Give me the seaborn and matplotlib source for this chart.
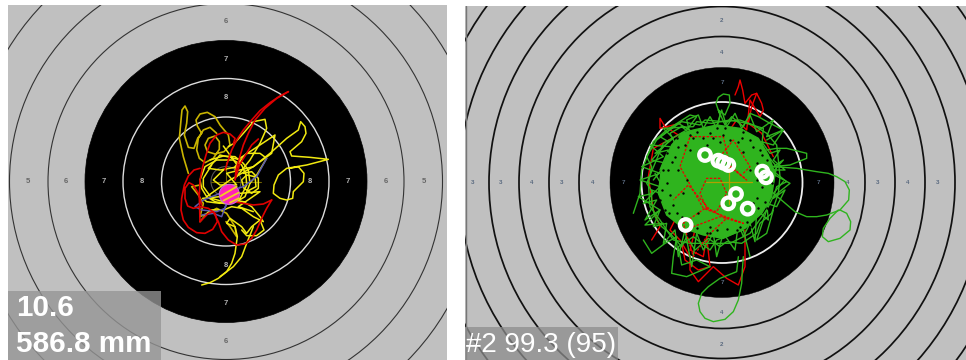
import matplotlib
matplotlib.use("Agg")
import matplotlib.pyplot as plt
import seaborn as sns
import numpy as np
import pandas as pd
from matplotlib.patches import Circle, Ellipse, Rectangle

sns.set_theme(style="white")
plt.rcParams['font.family'] = ['Liberation Sans', 'DejaVu Sans']

W, H = 966, 360
GREY = "#c0c0c0"

left_center = (226, 181.5)
left_black_r = 141
left_white_r = [103, 64.5]
left_ring_r = [178, 216.5, 255]
left_labels = [("5", 198), ("6", 160), ("7", 122), ("8", 84)]
left_top_labels = [("6", 160), ("7", 122), ("8", 84)]

right_center = (722, 182.5)
right_black_wh = (112, 115)
right_white_r = [80.5]
right_ring_w = [143, 173, 203, 233, 263, 293]
right_ring_h = [146, 176, 206, 236, 266, 296]
right_h_labels = ["3", "3", "4", "3", "4", "7", "7", "4", "3", "4", "3"]
right_h_label_x = [473, 501, 532, 562, 593, 623, 818, 848, 878, 908, 938]
right_v_labels = ["2", "4", "7", "7", "4", "2"]
right_v_label_y = [20, 52, 82, 283, 313, 344]

y_dark_a = [(205,310),(190,260),(178,205),(183,150),(186,120),(195,108),(203,125),(200,160),(193,195),(205,232),(222,235),(233,205),(245,190),(232,168),(228,150),(240,132),(262,127),(285,140),(300,165),(325,195),(330,225),(312,245),(285,252),(262,245),(255,225),(265,205),(285,198),(298,215),(298,238),(280,265),(255,278),(238,265),(230,240),(235,205),(250,180),(270,172),(290,190)]
y_dark_b = [(240,345),(215,350),(235,375),(250,400),(240,440),(262,430),(290,415),(320,430),(345,470),(350,500),(330,470),(318,455)]
y_bright_b = [(260,380),(330,330),(400,290),(450,250),(500,205),(535,180),(542,155),(555,170),(558,190),(545,215),(510,245),(515,258),(570,262),(625,268),(560,285),(500,295),(475,315),(462,345),(460,370),(480,385),(500,390),(518,385),(520,365),(550,335),(552,310),(535,290),(510,295)]
y_ring_c = [(270,270),(310,258),(345,260),(370,280),(385,300),(390,340),(375,380),(350,395),(320,402),(285,395),(260,380),(245,355),(240,330),(255,290),(290,270),(340,270),(365,285),(378,315),(380,345),(360,385),(310,395),(275,385),(250,350),(250,325),(275,285)]
y_loop = [(370,310),(395,305),(415,325),(415,355),(395,370),(372,355),(365,330),(380,315),(405,320),(408,350),(385,362)]
y_d = [(325,230),(345,218),(370,190),(400,155),(435,148),(440,175),(420,220),(390,270),(350,320),(345,290),(380,250),(420,250),(440,265),(410,315),(390,340)]
y_e = [(240,455),(270,420),(310,420),(335,410),(365,415),(400,440),(430,455),(420,440),(395,410),(370,395),(340,390),(300,400),(260,395),(248,385),(300,380),(360,370),(420,365),(355,410),(400,425)]
y_tail = [(245,645),(270,638),(295,625),(320,605),(335,580),(345,550),(352,500),(345,470),(320,460),(330,445),(365,470),(380,490),(395,470),(420,450),(432,480),(410,497),(380,497),(365,480)]
y_tail2 = [(300,620),(340,590),(365,560),(380,520),(400,470)]
y_top = [(310,228),(355,290),(300,300),(265,295),(300,255),(355,268),(465,195),(455,250),(400,290),(320,310),(350,345),(300,345),(280,330),(310,300)]
r_big = [(505,65),(480,78),(450,98),(420,122),(395,150),(370,180),(350,210),(335,240),(325,270),(315,300)]
r_big2 = [(505,65),(470,85),(435,115),(405,150),(385,190),(370,225),(358,265),(348,300),(345,330),(358,285),(380,250),(395,225),(415,207)]
r_arc = [(340,222),(345,205),(330,192),(310,187),(290,195),(270,220),(258,255),(248,290),(240,330),(238,380),(240,455)]
r_loop = [(240,295),(222,300),(205,318),(193,345),(185,385),(183,420),(190,450),(205,472),(230,488),(255,490),(278,478),(292,455),(285,430),(265,415),(240,410),(220,415),(203,408),(195,385),(195,355),(207,338),(220,345),(235,370),(245,405)]
r_bottom = [(455,390),(440,415),(425,445),(410,480),(395,505),(375,522),(350,525),(325,510),(305,485),(295,455),(280,425),(265,430),(240,455)]
r_bottom2 = [(455,390),(430,402),(400,405),(370,400),(340,395),(310,385)]
b_trace = [(440,265),(410,320),(370,350),(300,370),(250,390),(225,410),(245,420),(290,425),(315,415),(325,385),(305,440),(280,430),(245,435)]
pink_center = (328, 373)
pink_stripes = [((302,378),(350,350)),((310,392),(356,368)),((330,398),(356,385))]

blob_outline = [(250,180),(320,165),(390,175),(445,205),(475,255),(495,310),(485,380),(455,430),(405,475),(340,505),(280,495),(220,475),(170,435),(145,370),(155,290),(185,225),(215,190)]
black_specks = [(300,190),(340,195),(395,205),(430,230),(455,255),(440,280),(205,230),(185,275),(172,340),(190,405),(178,430),(215,440),(350,478),(380,480),(410,455),(445,415),(465,395),(300,490),(205,300),(220,370),(400,245),(430,400),(250,205),(330,215),(300,470),
                (280,205),(310,205),(360,210),(420,210),(450,240),(465,290),(195,260),(175,300),(180,375),(200,430),(240,455),(260,475),(320,480),(390,470),(440,385),(455,350),(420,300),(240,240),(230,330),(265,430),(440,330),(385,215),(345,175),(225,225),(290,225),
                (160,300),(155,360),(170,250),(200,205),(260,185),(320,175),(400,185),(470,270),(485,340),(470,415),(420,470),(290,490),(210,465),(165,420),(150,390),(480,310),(240,195)]
g_tail = [(480,290),(520,292),(560,295),(620,305),(655,310),(680,320),(705,335),(718,360),(716,390),(690,420),(650,435),(620,440),(590,440),(555,425),(520,395),(490,370),(520,335)]
g_loop2 = [(690,420),(710,430),(722,455),(720,480),(690,505),(655,515),(637,500),(640,475),(660,445),(685,420)]
g_bottom = [(400,560),(397,600),(395,640),(385,690),(370,725),(345,748),(310,755),(285,745),(270,725),(265,700),(275,670),(295,650),(330,625),(380,605),(385,560)]
g_top = [(320,170),(330,135),(318,100),(325,82),(340,72),(358,75),(360,100),(345,135),(325,120),(345,165),(365,140),(400,170),(420,130),(445,140),(480,160),(520,180),(470,210)]
g_right = [(470,240),(500,235),(530,235),(590,250),(590,265),(540,285),(490,290),(520,270),(485,310),(540,340),(490,380),(470,420),(440,510),(470,490),(490,420)]
g_left = [(70,430),(90,370),(95,300),(130,215),(170,180),(240,135),(260,140),(230,180),(160,220),(110,340),(130,370),(85,380),(150,420),(105,465),(160,460)]
g_bl = [(100,510),(125,550),(165,520),(200,500),(190,560),(185,610),(230,620),(300,590),(260,570),(215,585),(205,530),(250,500),(300,540),(320,510),(400,480),(420,560)]
g_fringe = [(200,230),(180,190),(215,170),(240,190),(230,150),(265,135),(280,175),(300,140),(320,175),(335,120),(350,170),(375,130),(395,175),(420,135),(440,185),(490,150),(470,200),(520,180),(490,225),(455,215),(480,250),(510,240),(490,270),(525,300),(485,300),(530,335),(500,350),(490,385),(525,360),(500,410),(470,400),(475,450),(440,420),(435,515),(420,460),(400,500),(385,460),(375,540),(340,490),(320,560),(310,490),(280,540),(260,490),(245,590),(225,480),(205,560),(195,480),(160,520),(170,460),(130,470),(150,420),(105,450),(140,390),(100,400),(150,350),(90,330),(150,310),(95,290),(160,260),(120,225),(180,230)]
g_fringe2 = [(150,300),(175,240),(135,250),(190,205),(160,175),(250,170),(260,155),(305,160),(360,150),(410,160),(460,175),(455,235),(500,290),(490,340),(470,420),(420,490),(360,520),(300,520),(240,520),(190,510),(150,450),(120,410),(115,340),(125,290),(110,260),(140,210),(205,160),(255,190)]
g_fringe3 = [(130,330),(170,280),(125,270),(175,215),(150,200),(215,155),(270,165),(285,150),(340,155),(390,150),(430,165),(470,190),(500,225),(505,270),(510,320),(505,370),(485,430),(450,460),(440,490),(395,520),(350,515),(330,530),(295,505),(255,540),(230,500),(215,530),(180,490),(155,470),(135,440),(125,400),(125,360),(175,380),(135,310)]
r2_top = [(375,75),(385,50),(390,30),(398,60),(405,100),(425,75),(440,70),(455,100),(460,120),(450,140),(420,90),(410,180),(380,150),(345,200),(320,165)]
r2_top2 = [(440,70),(425,110),(415,160),(455,190),(490,260)]
r2_left = [(210,160),(150,175),(150,145),(165,170),(205,195),(130,235),(115,320),(130,420),(150,470),(125,510)]
r2_bottom = [(405,480),(405,590),(385,645),(350,625),(310,590),(280,620),(265,635),(240,600),(240,560),(210,510),(180,480),(200,440)]
r2_bottom2 = [(255,480),(240,540),(280,560),(290,500),(300,590),(265,600),(225,570),(215,520)]
r2_center = [(290,415),(270,370),(290,325),(330,325),(350,370),(320,425),(285,415),(220,460),(250,560),(290,500),(350,445),(300,420),(235,345),(190,390)]
r2_up = [(400,310),(420,290),(370,210),(330,260),(410,330),(360,290),(340,200),(240,200),(210,290),(280,415),(400,460),(330,440),(250,470)]
shot_x = [285,325,340,355,457,468,378,355,413,227]
shot_y = [255,272,278,285,305,322,372,400,416,465]

left_text = ["10.6", "586.8 mm"]
right_text = "#2 99.3 (95)"

fig = plt.figure(figsize=(W/100, H/100), dpi=100, facecolor="white")

def panel(x0, y0, x1, y1):
    ax = fig.add_axes([x0/W, 1-y1/H, (x1-x0)/W, (y1-y0)/H])
    ax.set_xlim(x0, x1)
    ax.set_ylim(y1, y0)
    ax.set_facecolor(GREY)
    ax.set_xticks([]); ax.set_yticks([])
    for s in ax.spines.values():
        s.set_visible(False)
    return ax

def trace(ax, pts, ox, oy, color, lw, z=3, **kw):
    p = np.array(pts, float)
    d = pd.DataFrame({"x": ox + p[:,0]/3, "y": oy + p[:,1]/3})
    sns.lineplot(data=d, x="x", y="y", sort=False, estimator=None, color=color,
                 lw=lw, ax=ax, legend=False, zorder=z, **kw)

# left panel
axL = panel(8, 5, 447, 360)
for r in left_ring_r:
    axL.add_patch(Circle(left_center, r, fc="none", ec="#333333", lw=0.8, zorder=1))
axL.add_patch(Circle(left_center, left_black_r, fc="black", ec="black", lw=0.5, zorder=1))
for r in left_white_r:
    axL.add_patch(Circle(left_center, r, fc="none", ec="#dddddd", lw=1.0, zorder=2))
cx, cy = left_center
def lab_col(r):
    return "#b5b5b5" if r < left_black_r else "#666666"
for lab, r in left_labels:
    for sx in (-1, 1):
        axL.text(cx+sx*r, cy, lab, ha="center", va="center", fontsize=5.5, color=lab_col(r), fontweight="bold")
for lab, r in left_top_labels:
    for sy in (-1, 1):
        axL.text(cx, cy+sy*r, lab, ha="center", va="center", fontsize=5.5, color=lab_col(r), fontweight="bold")
axL.add_patch(Circle(left_center, 15, fc="none", ec="#555555", lw=0.8, zorder=2))
axL.plot([cx-15, cx+35], [cy, cy], color="#6e6000", lw=0.8, zorder=2)
axL.plot([cx, cx], [cy-20, cy+20], color="#6e6000", lw=0.8, zorder=2)

ox, oy = 120, 70
for pts in (y_dark_a, y_dark_b):
    trace(axL, pts, ox, oy, "#c9b400", 1.2)
for pts in (y_bright_b, y_ring_c, y_loop, y_d, y_e, y_tail, y_tail2, y_top):
    trace(axL, pts, ox, oy, "#f2ea10", 1.1, z=4)
trace(axL, b_trace, ox, oy, "#5a5ab0", 1.1, z=5)
for pts in (r_big, r_big2, r_arc, r_loop, r_bottom, r_bottom2):
    trace(axL, pts, ox, oy, "#e00000", 1.2, z=5)
px, py = ox + pink_center[0]/3, oy + pink_center[1]/3
axL.add_patch(Circle((px, py), 10, fc="#ff22b8", ec="#cc66dd", lw=0.8, zorder=6))
for a, b in pink_stripes:
    trace(axL, [a, b], ox, oy, "#f0d020", 1.3, z=7)

axL.add_patch(Rectangle((8, 291), 153, 69, fc="#969696", ec="none", alpha=0.79, zorder=8))
axL.text(16, 308, left_text[0], fontsize=21.3, fontweight="bold", color="white", va="center", ha="left", zorder=9)
axL.text(16, 344, left_text[1], fontsize=21.3, fontweight="bold", color="white", va="center", ha="left", zorder=9)

# right panel
axR = panel(465, 6, 966, 360)
cx, cy = right_center
for w, h in zip(right_ring_w, right_ring_h):
    axR.add_patch(Ellipse(right_center, 2*w, 2*h, fc="none", ec="#111111", lw=1.25, zorder=1))
axR.add_patch(Ellipse(right_center, 2*right_black_wh[0], 2*right_black_wh[1], fc="black", ec="black", lw=0.3, zorder=1))
for r in right_white_r:
    axR.add_patch(Circle(right_center, r, fc="none", ec="#eeeeee", lw=1.3, zorder=2))
LBL = "#5a6a80"
for lab, x in zip(right_h_labels, right_h_label_x):
    axR.text(x, cy, lab, ha="center", va="center", fontsize=4.5, color=LBL, fontweight="bold", zorder=2)
for lab, y in zip(right_v_labels, right_v_label_y):
    axR.text(cx, y, lab, ha="center", va="center", fontsize=4.5, color=LBL, fontweight="bold", zorder=2)
axR.axvline(465.5, color="#777777", lw=1.0, zorder=2)

ox, oy = 610, 70
for pts in (r2_top, r2_top2, r2_left, r2_bottom, r2_bottom2):
    trace(axR, pts, ox, oy, "#ee0000", 1.0, z=3)
G = "#2fb41e"
b = np.array(blob_outline, float)
axR.fill(ox + b[:,0]/3, oy + b[:,1]/3, color=G, zorder=3)
for pts in (g_tail, g_loop2, g_bottom, g_top, g_right, g_left, g_bl, g_fringe, g_fringe2, g_fringe3):
    trace(axR, pts, ox, oy, G, 1.0, z=4)
for pts in (r2_center, r2_up):
    trace(axR, pts, ox, oy, "#ee0000", 0.9, z=5, linestyle=(0, (2, 1.2)))
s = np.array(black_specks, float)
sns.scatterplot(x=ox + s[:,0]/3, y=oy + s[:,1]/3, s=3, color="black", linewidth=0, ax=axR, legend=False, zorder=5)
axR.plot([706, 752], [182, 182], color="#b0a000", lw=0.9, zorder=6)
axR.plot([729, 729], [160, 204], color="#b0a000", lw=0.9, zorder=6)
sns.scatterplot(x=ox + np.array(shot_x)/3, y=oy + np.array(shot_y)/3, s=70, marker="o",
                facecolor="none", edgecolor="white", linewidth=3.0, ax=axR, legend=False, zorder=7)
axR.add_patch(Rectangle((465, 327), 153, 33, fc="#8c8c8c", ec="none", alpha=0.75, zorder=8))
axR.text(466, 345, right_text, fontsize=20, color="white", va="center", ha="left", zorder=9)

fig.savefig("out.png", dpi=100, facecolor="white")
